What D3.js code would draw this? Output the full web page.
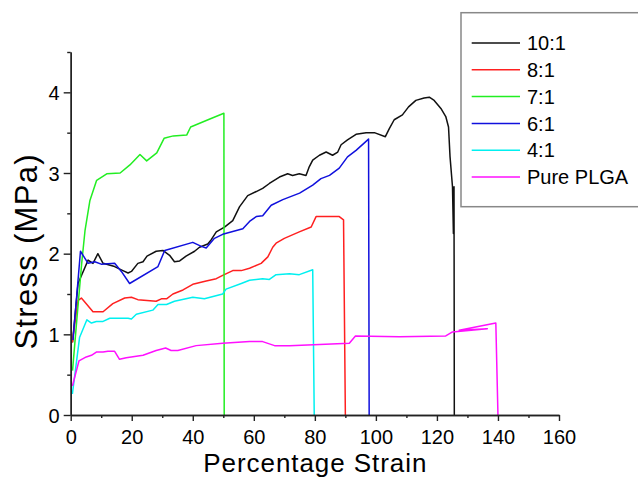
<!DOCTYPE html>
<html>
<head>
<meta charset="utf-8">
<script src="https://cdn.jsdelivr.net/npm/d3@7"></script>
<style>
  body { margin: 0; background: #fff; overflow: hidden; }
  text { font-family: "Liberation Sans", Arial, sans-serif; fill: #000; }
</style>
</head>
<body>
<div id="stressPlot"></div>
<script>
// strain (%) / stress (MPa) pairs
const ratio10 = [[0.6,0.9],[2.4,1.63],[5.7,1.92],[7.3,1.88],[8.9,2.0],[10.6,1.88],[14.4,1.84],[17.1,1.79],[18.8,1.76],[19.9,1.78],[22,1.88],[23.7,1.9],[25,1.97],[28,2.03],[30.2,2.04],[32.4,1.98],[34,1.9],[35.7,1.91],[37.8,1.97],[40.6,2.03],[42.2,2.08],[44.9,2.12],[46,2.17],[47.7,2.27],[50.4,2.33],[53.1,2.41],[55.3,2.58],[58,2.72],[60.8,2.77],[62.9,2.81],[65.1,2.87],[68.4,2.95],[71.1,2.99],[72.7,2.97],[74.9,2.99],[77.1,2.97],[78.2,3.08],[79.3,3.16],[81.5,3.22],[83.7,3.26],[85.8,3.22],[87.5,3.26],[88.6,3.35],[90.7,3.41],[93.5,3.48],[96.8,3.5],[99.5,3.5],[103.1,3.45],[104.4,3.55],[106,3.66],[108.7,3.72],[110.7,3.82],[113.1,3.9],[115.8,3.93],[117.5,3.94],[119.1,3.9],[121.3,3.8],[122.9,3.7],[123.8,3.57],[124.3,3.2],[125.1,2.83],[125.4,2.25],[125.6,2.83],[125.7,0]]
const ratio8 = [[0.5,0.9],[2.4,1.42],[3.5,1.45],[5.1,1.38],[7.3,1.28],[10.6,1.28],[13.8,1.38],[17.7,1.45],[19.9,1.46],[22,1.43],[28,1.41],[29.7,1.44],[31.4,1.44],[33.5,1.5],[36.8,1.55],[40,1.62],[44.4,1.66],[47.7,1.69],[49.8,1.73],[53.1,1.79],[55.9,1.79],[58.6,1.82],[62.4,1.88],[64.6,1.96],[66.2,2.08],[67.3,2.13],[70,2.19],[74.9,2.27],[78.8,2.33],[80.4,2.46],[88,2.46],[89.4,2.42],[90,0]]
const ratio7 = [[0.6,0.55],[2,1.18],[3.6,1.88],[4.7,2.29],[6.3,2.66],[8.5,2.91],[11.8,2.99],[16.2,3.0],[19.4,3.1],[22.7,3.23],[24.9,3.15],[28.2,3.25],[30.6,3.43],[33.6,3.46],[38,3.47],[39.3,3.57],[45.6,3.67],[50.2,3.74],[50.3,0]]
const ratio6 = [[0.75,0.93],[3.2,2.03],[5.7,1.88],[7.9,1.9],[10,1.87],[14.4,1.88],[16.6,1.78],[19.3,1.63],[28.6,1.84],[30.8,2.04],[40,2.14],[42.8,2.09],[44.4,2.07],[47.1,2.19],[49.8,2.24],[56.4,2.31],[58.6,2.4],[60.8,2.46],[62.9,2.47],[65.7,2.6],[69.5,2.67],[75,2.75],[79.3,2.85],[82,2.93],[84.8,2.97],[88,3.06],[90.7,3.2],[93.5,3.28],[97.6,3.42],[97.8,0]]
const ratio4 = [[0.55,0.26],[2.9,0.96],[5.3,1.18],[6.8,1.14],[8.4,1.16],[10.6,1.16],[12.8,1.2],[18.8,1.2],[19.9,1.19],[21.5,1.25],[26.9,1.3],[28.6,1.37],[31.4,1.37],[34,1.41],[40,1.46],[43.8,1.44],[49.8,1.5],[50.9,1.56],[55.9,1.63],[58.6,1.67],[62.9,1.69],[65.1,1.68],[67.3,1.74],[71.7,1.75],[74.9,1.74],[79.3,1.8],[79.8,0]]
const purePlga = [[0.55,0.36],[2.7,0.67],[5.1,0.72],[6.8,0.74],[8.4,0.78],[10.6,0.78],[12.2,0.79],[14.4,0.79],[16,0.69],[18.2,0.71],[23.7,0.74],[28,0.8],[31.1,0.83],[32.9,0.8],[35.1,0.8],[41.1,0.86],[49.8,0.89],[58.6,0.91],[62.9,0.91],[66.8,0.86],[71.7,0.86],[91.3,0.89],[93.3,0.98],[107.7,0.97],[122.9,0.98],[125.1,1.03],[136.5,1.07],[127.3,1.05],[139.3,1.14],[140,0]]

const seriesNames = ["10:1", "8:1", "7:1", "6:1", "4:1", "Pure PLGA"]
const seriesData = [ratio10, ratio8, ratio7, ratio6, ratio4, purePlga]
const seriesColors = ["#111111", "#ff2020", "#22ee22", "#1010dd", "#00f0f0", "#ff10ff"]

const xTicks = [0, 20, 40, 60, 80, 100, 120, 140, 160]
const xMinorTicks = [10, 30, 50, 70, 90, 110, 130, 150]
const yTicks = [0, 1, 2, 3, 4]
const yMinorTicks = [0.5, 1.5, 2.5, 3.5, 4.5]

const width = 638, height = 479
const margin = { top: 52, right: 79, bottom: 64, left: 70.7 }

const svg = d3.select("#stressPlot")
    .append("svg")
    .attr("width", width)
    .attr("height", height)

const x = d3.scaleLinear().domain([0, 160]).range([margin.left, width - margin.right])
const y = d3.scaleLinear().domain([0, 4.5]).range([height - margin.bottom, margin.top])

// curves first, axes drawn on top
const valueline = d3.line()
    .x(d => x(d[0]))
    .y(d => y(d[1]))

seriesData.forEach((data, i) => {
    svg.append("path")
        .datum(data)
        .attr("fill", "none")
        .attr("stroke", seriesColors[i])
        .attr("stroke-width", 1.5)
        .attr("stroke-linejoin", "round")
        .attr("d", valueline)
})

// x axis
const xAxis = svg.append("g")
    .attr("transform", "translate(0," + y(0) + ")")
    .call(d3.axisBottom(x).tickValues(xTicks).tickSize(6).tickPadding(9).tickSizeOuter(0))
xAxis.append("g")
    .call(d3.axisBottom(x).tickValues(xMinorTicks).tickSize(3).tickFormat("").tickSizeOuter(0))
xAxis.selectAll("text").attr("font-size", 20).style("font-family", "Liberation Sans, Arial, sans-serif")

// y axis
const yAxis = svg.append("g")
    .attr("transform", "translate(" + x(0) + ",0)")
    .call(d3.axisLeft(y).tickValues(yTicks).tickFormat(d3.format("d")).tickSize(7).tickPadding(4).tickSizeOuter(0))
yAxis.append("g")
    .call(d3.axisLeft(y).tickValues(yMinorTicks).tickSize(3.5).tickFormat("").tickSizeOuter(0))
yAxis.selectAll("text").attr("font-size", 20).attr("dy", "0.35em").style("font-family", "Liberation Sans, Arial, sans-serif")

svg.selectAll(".domain, .tick line")
    .attr("stroke", "#222")
    .attr("stroke-width", 1.4)

// axis titles
svg.append("text")
    .attr("x", (x(0) + x(160)) / 2)
    .attr("y", 472)
    .attr("text-anchor", "middle")
    .attr("font-size", 26)
    .attr("textLength", 223)
    .text("Percentage Strain")

svg.append("text")
    .attr("transform", "translate(37,252) rotate(-90)")
    .attr("text-anchor", "middle")
    .attr("font-size", 31)
    .attr("textLength", 195)
    .text("Stress (MPa)")

// legend
const legend = svg.append("g")
legend.append("rect")
    .attr("x", 461)
    .attr("y", 12.7)
    .attr("width", 200)
    .attr("height", 194)
    .attr("fill", "#fff")
    .attr("stroke", "#888")
    .attr("stroke-width", 1.5)

seriesNames.forEach((name, i) => {
    const rowY = 43 + i * 26.8
    legend.append("line")
        .attr("x1", 471.7)
        .attr("x2", 520)
        .attr("y1", rowY)
        .attr("y2", rowY)
        .attr("stroke", seriesColors[i])
        .attr("stroke-width", 1.5)
    legend.append("text")
        .attr("x", 527)
        .attr("y", rowY)
        .attr("dy", "0.36em")
        .attr("font-size", 20)
        .text(name)
})
</script>
</body>
</html>
